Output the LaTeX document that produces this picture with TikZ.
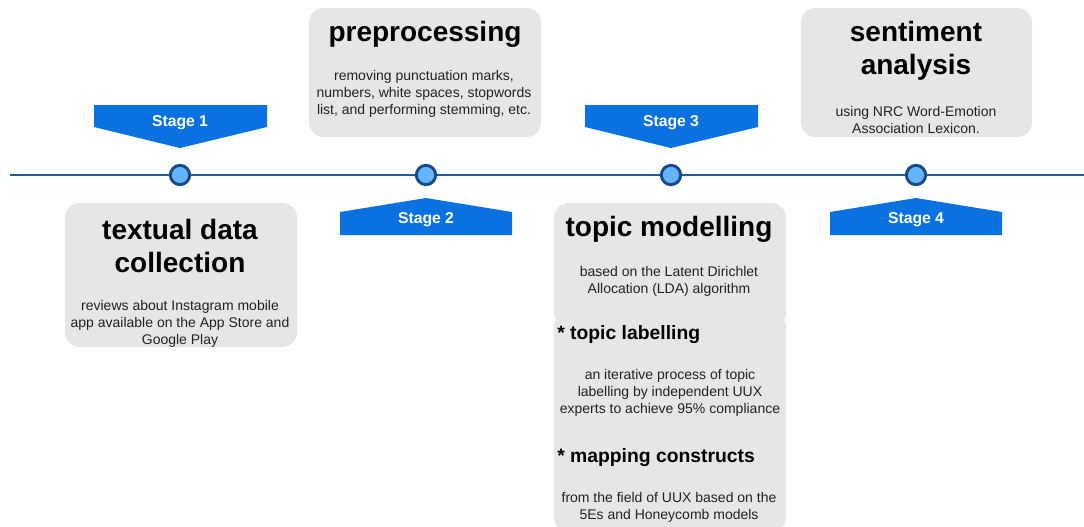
\documentclass[tikz,border=0pt]{standalone}
\usepackage{fontspec}
\setmainfont{Liberation Sans}
\usetikzlibrary{positioning}
\definecolor{stageBlue}{HTML}{0A72E0}
\definecolor{lineBlue}{HTML}{1F5A9E}
\definecolor{dotFill}{HTML}{66B3FF}
\definecolor{dotEdge}{HTML}{174B85}
\definecolor{boxGray}{HTML}{E6E6E6}
\definecolor{bodyText}{HTML}{222222}
\tikzset{
    card/.style={fill=boxGray, rounded corners=11pt, inner sep=0pt},
    title/.style={font=\fontsize{21}{24.75}\selectfont\bfseries, align=center, inner sep=0pt},
    subtitle/.style={font=\fontsize{14.5}{17}\selectfont\bfseries, anchor=west, inner sep=0pt},
    body/.style={font=\fontsize{10.5}{12.75}\selectfont, text=bodyText, align=center, inner sep=0pt},
    stagetext/.style={font=\fontsize{11.8}{14}\selectfont\bfseries, text=white, inner sep=0pt},
    dot/.style={circle, minimum size=14.5pt, inner sep=0pt, fill=dotFill, draw=dotEdge, line width=2.2pt}
}

\begin{document}
\begin{tikzpicture}[x=0.75pt, y=-0.75pt]
            \useasboundingbox (0,0) rectangle (1084,526);
            \node[card, minimum width=174pt, minimum height=108pt] (collectBox) at (181,275) {};
            \node[card, minimum width=174pt, minimum height=96.75pt] (prepBox) at (425,72.5) {};
            \node[card, minimum width=174pt, minimum height=93pt] (topicBox) at (670,265) {};
            \node[card, minimum width=174pt, minimum height=164.25pt] (labelBox) at (670,422.5) {};
            \node[card, minimum width=173.25pt, minimum height=96.75pt] (sentBox) at (916.5,72.5) {};

            \coordinate (lineStart) at (10,175);
            \coordinate (lineEnd) at (1084,175);
            \foreach \x [count=\i] in {180,426,671,916}
                \node[dot] (dot\i) at (\x,175) {};
            \draw[lineBlue, line width=1.5pt] (lineStart) -- (dot1) (dot1) -- (dot2) (dot2) -- (dot3) (dot3) -- (dot4) (dot4) -- (lineEnd);

            \foreach \x/\n in {180/1, 671/3} {
                \fill[stageBlue] ({\x-86},105) -- ({\x+87},105) -- ({\x+87},127) -- (\x,148) -- ({\x-86},127) -- cycle;
                \node[stagetext] (stage\n) at (\x,123) {Stage \n};
            }
            \foreach \x/\n in {426/2, 916/4} {
                \fill[stageBlue] ({\x-86},235) -- ({\x+86},235) -- ({\x+86},212) -- (\x,198) -- ({\x-86},212) -- cycle;
                \node[stagetext] (stage\n) at (\x,219.5) {Stage \n};
            }

            \node[title] (collectTitle) at (180,246) {textual data\\collection};
            \node[body] (collectText) at (180,324) {reviews about Instagram mobile\\app available on the App Store and\\Google Play};
            \node[title] (prepTitle) at (425,34) {preprocessing};
            \node[body] (prepText) at (424,94) {removing punctuation marks,\\numbers, white spaces, stopwords\\list, and performing stemming, etc.};
            \node[title] (topicTitle) at (669,229) {topic modelling};
            \node[body] (topicText) at (669,281) {based on the Latent Dirichlet\\Allocation (LDA) algorithm};
            \node[subtitle] (labelTitle) at (557,335) {* topic labelling};
            \node[body] (labelText) at (670,393) {an iterative process of topic\\labelling by independent UUX\\experts to achieve 95\% compliance};
            \node[subtitle] (mapTitle) at (557,458) {* mapping constructs};
            \node[body] (mapText) at (669,507) {from the field of UUX based on the\\5Es and Honeycomb models};
            \node[title] (sentTitle) at (916,51) {sentiment\\analysis};
            \node[body] (sentText) at (916,120) {using NRC Word-Emotion\\Association Lexicon.};
        \end{tikzpicture}
\end{document}
